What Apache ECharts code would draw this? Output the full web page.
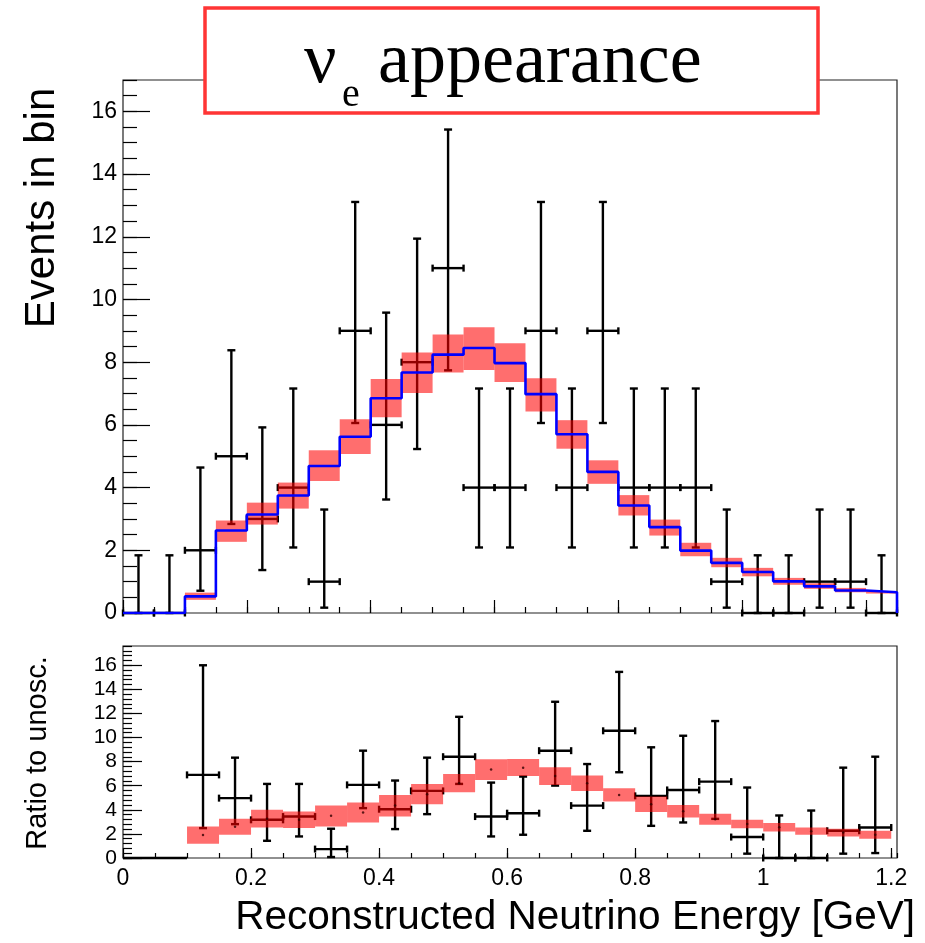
<!DOCTYPE html>
<html><head><meta charset="utf-8">
<script src="https://cdn.jsdelivr.net/npm/echarts@6/dist/echarts.min.js"></script>
<style>html,body{margin:0;padding:0;background:#fff}#c{width:925px;height:943px}</style>
</head><body><div id="c"></div>
<script>
// ---- data ----
const binEdges = [0,0.05,0.1,0.15,0.2,0.25,0.3,0.35,0.4,0.45,0.5,0.55,0.6,0.65,0.7,0.75,0.8,0.85,0.9,0.95,1.0,1.05,1.1,1.15,1.2,1.25];
// top panel: observed events per bin (25 bins, 0-1.25 GeV)
const dataCounts  = [0,0,2,5,3,4,1,9,6,8,11,4,4,9,4,9,4,4,4,1,0,0,1,1,0];
const dataErrLow  = [0,0,0.71,2.84,1.37,2.09,0.17,6.06,3.62,5.23,7.74,2.09,2.09,6.06,2.09,6.06,2.09,2.09,2.09,0.17,0,0,0.17,0.17,0];
const dataErrHigh = [1.84,1.84,4.64,8.38,5.92,7.16,3.30,13.11,9.58,11.94,15.42,7.16,7.16,13.11,7.16,13.11,7.16,7.16,7.16,3.30,1.84,1.84,3.30,3.30,1.84];
// top panel: prediction (blue) and its uncertainty band (red)
const mcPred     = [0,0,0.53,2.63,3.14,3.75,4.69,5.62,6.85,7.67,8.24,8.45,7.97,6.98,5.70,4.50,3.43,2.74,1.99,1.60,1.31,1.01,0.85,0.72,0.66];
const mcBandLow  = [0,0,0.42,2.27,2.82,3.33,4.21,5.07,6.24,7.02,7.67,7.75,7.37,6.43,5.24,4.12,3.11,2.47,1.81,1.46,1.17,0.90,0.77,0.66,0.62];
const mcBandHigh = [0,0,0.65,2.95,3.52,4.16,5.19,6.18,7.46,8.31,8.88,9.11,8.60,7.49,6.15,4.87,3.76,2.98,2.24,1.76,1.44,1.12,0.95,0.80,0.70];
// bottom panel: ratio to unoscillated (24 bins, 0-1.2 GeV)
const ratioData    = [0,0,6.9,4.97,3.17,3.44,0.74,6.07,4.05,5.57,8.41,3.44,3.72,8.91,4.35,10.56,5.16,5.65,6.34,1.74,0,0,2.26,2.53];
const ratioErrLow  = [0,0,2.48,2.81,1.43,1.79,0.08,4.14,2.40,3.64,6.15,1.79,1.93,6.01,2.26,7.12,2.67,2.95,3.25,0.36,0,0,0.36,0.41];
const ratioErrHigh = [0,0,16.0,8.33,6.15,6.15,2.43,8.91,6.43,8.33,11.72,6.26,6.76,12.97,7.80,15.45,9.19,10.15,11.37,5.85,3.53,3.94,7.50,8.41];
const ratioMC      = [null,null,1.90,2.60,3.25,3.18,3.50,3.78,4.35,5.30,6.20,7.35,7.50,6.80,6.20,5.24,4.47,3.88,3.22,2.83,2.55,2.23,2.11,1.93];
const ratioBandLow = [null,null,1.18,1.93,2.53,2.50,2.62,2.95,3.44,4.47,5.46,6.48,6.81,6.07,5.57,4.69,3.81,3.36,2.76,2.48,2.20,1.93,1.79,1.60];
const ratioBandHigh= [null,null,2.62,3.25,4.00,3.86,4.35,4.60,5.24,6.15,6.98,8.20,8.22,7.53,6.84,5.79,5.10,4.41,3.67,3.17,2.90,2.53,2.43,2.26];
const topYTicks = [0,2,4,6,8,10,12,14,16];
const xTickLabels = ['0','0.2','0.4','0.6','0.8','1','1.2'];

// ---- build ----
const FONT = '"Liberation Sans", Arial, Helvetica, sans-serif';
const RED = 'rgba(255,0,0,0.57)';

function errRows(vals, lo, hi) {
  return vals.map((v, i) => [binEdges[i], binEdges[i+1], v, lo[i], hi[i]]);
}
function bandRows(lo, hi) {
  return lo.map((l, i) => [binEdges[i], binEdges[i+1], l, hi[i]]);
}
function errorBarItem(params, api) {
  const xl = api.value(0), xh = api.value(1), v = api.value(2), lo = api.value(3), hi = api.value(4);
  const xc = (xl + xh) / 2;
  const a = api.coord([xl, v]), b = api.coord([xh, v]);
  const st = {stroke: '#000', lineWidth: 2.4};
  const ch = [{type: 'line', shape: {x1: a[0], y1: a[1], x2: b[0], y2: b[1]}, style: st}];
  if (hi > lo) {
    const t = api.coord([xc, hi]), m = api.coord([xc, lo]);
    ch.push({type: 'line', shape: {x1: t[0], y1: t[1], x2: m[0], y2: m[1]}, style: st});
    ch.push({type: 'line', shape: {x1: t[0]-4, y1: t[1], x2: t[0]+4, y2: t[1]}, style: st});
    ch.push({type: 'line', shape: {x1: m[0]-4, y1: m[1], x2: m[0]+4, y2: m[1]}, style: st});
    ch.push({type: 'line', shape: {x1: a[0], y1: a[1]-3.5, x2: a[0], y2: a[1]+3.5}, style: st});
    ch.push({type: 'line', shape: {x1: b[0], y1: b[1]-3.5, x2: b[0], y2: b[1]+3.5}, style: st});
  }
  return {type: 'group', children: ch};
}
function bandItem(params, api) {
  const lo = api.value(2), hi = api.value(3);
  if (!(hi > lo)) return null;
  const p1 = api.coord([api.value(0), hi]), p2 = api.coord([api.value(1), lo]);
  return {type: 'rect', shape: {x: p1[0], y: p1[1], width: p2[0]-p1[0], height: p2[1]-p1[1]}, style: {fill: RED}};
}

const stepData = mcPred.map((v, i) => [binEdges[i], v]).concat([[binEdges[mcPred.length], 0]]);
const ratioDots = ratioMC.map((v, i) => [(binEdges[i]+binEdges[i+1])/2, v]).filter(d => d[1] !== null);

const hidden = {show: false};
function xAx(grid, max, interval, tickLen, labels) {
  return {
    type: 'value', gridIndex: grid, min: 0, max: max, interval: interval, position: 'bottom',
    axisLine: hidden, splitLine: hidden,
    axisTick: {show: true, inside: true, length: tickLen, lineStyle: {color: '#000', width: 1.2}},
    axisLabel: labels ? {show: true, fontSize: 23, fontFamily: FONT, color: '#000', margin: 9, showMaxLabel: false,
      formatter: v => xTickLabels[Math.round(v / 0.2)] } : hidden
  };
}
function yAx(grid, max, interval, tickLen, labelSize) {
  return {
    type: 'value', gridIndex: grid, min: 0, max: max, interval: interval, position: 'left',
    axisLine: hidden, splitLine: hidden,
    axisTick: {show: true, inside: true, length: tickLen, lineStyle: {color: '#000', width: 1.2}},
    axisLabel: labelSize ? {show: true, fontSize: labelSize, fontFamily: FONT, color: '#000', margin: 6, showMaxLabel: false,
      formatter: v => String(topYTicks[Math.round(v / 2)])} : hidden
  };
}

const option = {
  backgroundColor: '#fff',
  animation: false,
  grid: [
    {left: 123, top: 80, width: 774, height: 533, show: true, borderColor: '#222', borderWidth: 1.2, backgroundColor: 'transparent'},
    {left: 123, top: 646, width: 774, height: 212, show: true, borderColor: '#222', borderWidth: 1.2, backgroundColor: 'transparent'}
  ],
  xAxis: [
    xAx(0, 1.25, 0.05, 6, false),
    xAx(0, 1.25, 0.2, 13, false),
    xAx(1, 1.209, 0.05, 5, false),
    xAx(1, 1.209, 0.2, 10, true)
  ],
  yAxis: [
    yAx(0, 17, 0.5, 14, 0),
    yAx(0, 17, 2, 27, 23),
    yAx(1, 17.6, 0.4, 9, 0),
    yAx(1, 17.6, 2, 19, 21)
  ],
  series: [
    {type: 'custom', name: 'data', xAxisIndex: 0, yAxisIndex: 0, z: 2, clip: false,
      renderItem: errorBarItem, data: errRows(dataCounts, dataErrLow, dataErrHigh)},
    {type: 'custom', name: 'band', xAxisIndex: 0, yAxisIndex: 0, z: 3,
      renderItem: bandItem, data: bandRows(mcBandLow, mcBandHigh)},
    {type: 'line', name: 'pred', xAxisIndex: 0, yAxisIndex: 0, z: 4, step: 'end', showSymbol: false,
      lineStyle: {color: '#0000ff', width: 2.6}, data: stepData},
    {type: 'custom', name: 'ratio', xAxisIndex: 2, yAxisIndex: 2, z: 2, clip: false,
      renderItem: errorBarItem, data: errRows(ratioData, ratioErrLow, ratioErrHigh)},
    {type: 'custom', name: 'ratioBand', xAxisIndex: 2, yAxisIndex: 2, z: 3,
      renderItem: bandItem, data: bandRows(ratioBandLow, ratioBandHigh)},
    {type: 'scatter', name: 'ratioMC', xAxisIndex: 2, yAxisIndex: 2, z: 5, symbol: 'circle', symbolSize: 2.5,
      itemStyle: {color: '#300'}, data: ratioDots}
  ],
  graphic: [
    {type: 'rect', z: 100, shape: {x: 205, y: 8, width: 613, height: 105},
      style: {fill: '#fff', stroke: '#ff3535', lineWidth: 3.5}},
    {type: 'text', z: 101, x: 304, y: 63, style: {text: 'ν', font: '72px "Liberation Serif", serif', fill: '#000', textAlign: 'left', textVerticalAlign: 'middle'}},
    {type: 'text', z: 101, x: 342, y: 95, style: {text: 'e', font: '40px "Liberation Serif", serif', fill: '#000', textAlign: 'left', textVerticalAlign: 'middle'}},
    {type: 'text', z: 101, x: 378, y: 63, style: {text: 'appearance', font: '72px "Liberation Serif", serif', fill: '#000', textAlign: 'left', textVerticalAlign: 'middle'}},
    {type: 'text', z: 101, x: 42, y: 208, rotation: Math.PI / 2, style: {text: 'Events in bin', font: '42px ' + FONT, fill: '#000', textAlign: 'center', textVerticalAlign: 'middle'}},
    {type: 'text', z: 101, x: 38, y: 753, rotation: Math.PI / 2, style: {text: 'Ratio to unosc.', font: '29px ' + FONT, fill: '#000', textAlign: 'center', textVerticalAlign: 'middle'}},
    {type: 'text', z: 101, x: 915, y: 918, style: {text: 'Reconstructed Neutrino Energy [GeV]', font: '40.5px ' + FONT, fill: '#000', textAlign: 'right', textVerticalAlign: 'middle'}}
  ]
};
const chart = echarts.init(document.getElementById('c'), null, {renderer: 'canvas'});
chart.setOption(option);
</script>
</body></html>
